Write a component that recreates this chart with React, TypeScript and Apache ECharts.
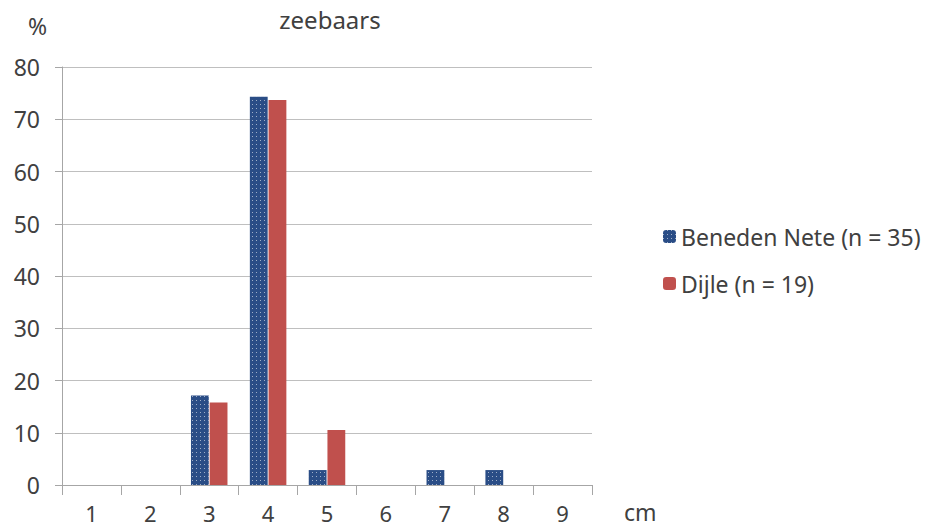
import React, { useEffect, useRef } from "react";
import * as echarts from "echarts";

const categories = ["1", "2", "3", "4", "5", "6", "7", "8", "9"];
const benedenNete = [0, 0, 17.14, 74.29, 2.86, 0, 2.86, 2.86, 0];
const dijle = [0, 0, 15.79, 73.68, 10.53, 0, 0, 0, 0];
const seriesNames = ["Beneden Nete (n = 35)", "Dijle (n = 19)"];

const FONT = "Noto Sans";
const TEXT = "#404040";
const FS = 23;

export default function App() {
  const ref = useRef<HTMLDivElement>(null);
  useEffect(() => {
    document.body.style.margin = "0";
    const chart = echarts.init(ref.current!, null, { renderer: "svg" });
    chart.setOption({
      animation: false,
      textStyle: { fontFamily: FONT },
      title: {
        text: "zeebaars",
        left: 330,
        textAlign: "center",
        top: 7,
        padding: 0,
        textStyle: { fontFamily: FONT, fontSize: 24, fontWeight: "normal", color: TEXT },
      },
      legend: {
        orient: "vertical",
        left: 663,
        top: 225,
        padding: 0,
        itemWidth: 13,
        itemHeight: 13,
        itemGap: 24,
        textStyle: { fontFamily: FONT, fontSize: FS, color: TEXT },
        data: seriesNames,
      },
      grid: { left: 62, right: 338, top: 67, bottom: 44 },
      xAxis: {
        type: "category",
        data: categories,
        axisLine: { lineStyle: { color: "#a6a6a6" } },
        axisTick: { show: true, length: 10, lineStyle: { color: "#a6a6a6" } },
        axisLabel: { margin: 16, fontSize: 22, lineHeight: 24, color: TEXT, fontFamily: FONT },
      },
      yAxis: {
        type: "value",
        min: 0,
        max: 80,
        interval: 10,
        axisLine: { show: true, lineStyle: { color: "#a6a6a6" } },
        axisTick: { show: true, length: 7, lineStyle: { color: "#a6a6a6" } },
        splitLine: { lineStyle: { color: "#bfbfbf" } },
        axisLabel: { margin: 22, fontSize: FS, color: TEXT, fontFamily: FONT },
      },
      graphic: [
        { type: "text", left: 28, top: 14, style: { text: "%", fontSize: FS, fill: TEXT, fontFamily: FONT } },
        { type: "text", left: 624, top: 500, style: { text: "cm", fontSize: FS, fill: TEXT, fontFamily: FONT } },
      ],
      series: [
        {
          name: seriesNames[0],
          type: "bar",
          data: benedenNete,
          barCategoryGap: "38%",
          barGap: "5%",
          itemStyle: {
            color: "#2a4d86",
            decal: {
              symbol: "rect",
              symbolSize: 1,
              color: "rgba(255,255,255,0.55)",
              dashArrayX: [1, 3],
              dashArrayY: [1, 3],
              rotation: 0,
            },
          },
        },
        {
          name: seriesNames[1],
          type: "bar",
          data: dijle,
          itemStyle: { color: "#c0504d" },
        },
      ],
    });
    return () => chart.dispose();
  }, []);
  return <div ref={ref} style={{ width: 930, height: 529 }} />;
}
